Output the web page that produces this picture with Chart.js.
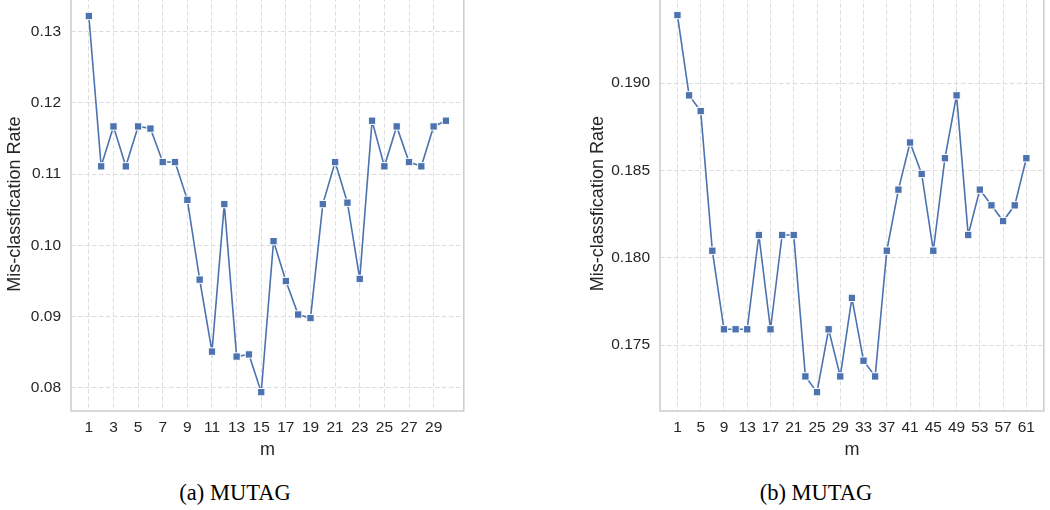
<!DOCTYPE html>
<html>
<head>
<meta charset="utf-8">
<script src="https://cdn.jsdelivr.net/npm/chart.js"></script>
<style>
body { margin: 0; background: #fff; width: 1050px; height: 510px; overflow: hidden; position: relative; }
.box { position: absolute; }
.cap { position: absolute; top: 480px; width: 300px; text-align: center; font-family: "Liberation Serif", serif; font-size: 22.5px; color: #000; }
</style>
</head>
<body>
<div class="box" style="left:0;top:-9px"><canvas id="chartA" width="470" height="470"></canvas></div>
<div class="box" style="left:580px;top:-10px"><canvas id="chartB" width="470" height="471"></canvas></div>
<div class="cap" style="left:85px">(a) MUTAG</div>
<div class="cap" style="left:666px">(b) MUTAG</div>
<script>
// (a) m = 1..30
const mA = [1, 2, 3, 4, 5, 6, 7, 8, 9, 10, 11, 12, 13, 14, 15, 16, 17, 18, 19, 20, 21, 22, 23, 24, 25, 26, 27, 28, 29, 30];
const rateA = [0.1322, 0.1111, 0.1167, 0.1111, 0.1167, 0.1164, 0.1117, 0.1117, 0.1064, 0.0952,
               0.0851, 0.1058, 0.0844, 0.0847, 0.0794, 0.1006, 0.0950, 0.0903, 0.0898, 0.1058,
               0.1117, 0.1060, 0.0953, 0.1175, 0.1111, 0.1167, 0.1117, 0.1111, 0.1167, 0.1175];
const xTicksA = [1, 3, 5, 7, 9, 11, 13, 15, 17, 19, 21, 23, 25, 27, 29];
const yTicksA = [0.08, 0.09, 0.10, 0.11, 0.12, 0.13];

// (b) m = 1, 3, ..., 61
const mB = [1, 3, 5, 7, 9, 11, 13, 15, 17, 19, 21, 23, 25, 27, 29, 31, 33, 35, 37, 39, 41, 43, 45, 47, 49, 51, 53, 55, 57, 59, 61];
const rateB = [0.1939, 0.1893, 0.1884, 0.1804, 0.1759, 0.1759, 0.1759, 0.1813, 0.1759, 0.1813,
               0.1813, 0.1732, 0.1723, 0.1759, 0.1732, 0.1777, 0.1741, 0.1732, 0.1804, 0.1839,
               0.1866, 0.1848, 0.1804, 0.1857, 0.1893, 0.1813, 0.1839, 0.1830, 0.1821, 0.1830, 0.1857];
const xTicksB = [1, 5, 9, 13, 17, 21, 25, 29, 33, 37, 41, 45, 49, 53, 57, 61];
const yTicksB = [0.175, 0.180, 0.185, 0.190];

const frame = {
  id: 'frame',
  beforeDatasetsDraw(chart) {
    const a = chart.chartArea, ctx = chart.ctx;
    ctx.save();
    ctx.strokeStyle = '#cccccc';
    ctx.lineWidth = 1.5;
    ctx.strokeRect(a.left, a.top, a.right - a.left, a.bottom - a.top);
    ctx.restore();
  }
};

function margins(vals) {
  const lo = Math.min(...vals), hi = Math.max(...vals), d = (hi - lo) * 0.05;
  return [lo - d, hi + d];
}

// no extra room for edge labels, the layout is fixed by hand
function noPad(s) {
  s.paddingTop = 0; s.paddingBottom = 0; s.paddingLeft = 0; s.paddingRight = 0;
}

function makeChart(id, xs, ys, xTicks, yTicks, digits, yWidth, padRight, titlePad) {
  const [xmin, xmax] = margins(xs);
  const [ymin, ymax] = margins(ys);
  const tickFont = { family: 'Liberation Sans', size: 15.5 };
  const titleFont = { family: 'Liberation Sans', size: 18 };
  new Chart(document.getElementById(id), {
    type: 'line',
    data: {
      datasets: [{
        data: xs.map((x, i) => ({ x: x, y: ys[i] })),
        borderColor: '#4c72b0',
        borderWidth: 1.6,
        pointStyle: 'rect',
        pointRadius: 5.2,
        pointBackgroundColor: '#4c72b0',
        pointBorderColor: '#ffffff',
        pointBorderWidth: 1,
        tension: 0
      }]
    },
    options: {
      responsive: false,
      animation: false,
      devicePixelRatio: 1,
      layout: { padding: { top: 2, right: padRight, left: 0, bottom: 0 } },
      plugins: { legend: { display: false }, tooltip: { enabled: false } },
      scales: {
        x: {
          type: 'linear',
          min: xmin,
          max: xmax,
          afterBuildTicks: s => { s.ticks = xTicks.map(v => ({ value: v })); },
          afterFit: s => { s.height = 50; noPad(s); },
          ticks: { autoSkip: false, maxRotation: 0, padding: 7, color: '#262626', font: tickFont, callback: v => v },
          grid: { color: '#dddddd', lineWidth: 1, drawTicks: false },
          border: { display: false, dash: [4.5, 2.5] },
          title: { display: true, text: 'm', color: '#262626', font: titleFont, padding: { top: 0, bottom: 0 } }
        },
        y: {
          min: ymin,
          max: ymax,
          afterBuildTicks: s => { s.ticks = yTicks.map(v => ({ value: v })); },
          afterFit: s => { s.width = yWidth; noPad(s); },
          ticks: { padding: 10, color: '#262626', font: tickFont, callback: v => v.toFixed(digits) },
          grid: { color: '#dddddd', lineWidth: 1, drawTicks: false },
          border: { display: false, dash: [4.5, 2.5] },
          title: { display: true, text: 'Mis-classfication Rate', color: '#262626', font: titleFont, padding: { top: titlePad, bottom: 0 } }
        }
      }
    },
    plugins: [frame]
  });
}

makeChart('chartA', mA, rateA, xTicksA, yTicksA, 2, 71, 3, 4.7);
makeChart('chartB', mB, rateB, xTicksB, yTicksB, 3, 80, 1, 7.2);
</script>
</body>
</html>
